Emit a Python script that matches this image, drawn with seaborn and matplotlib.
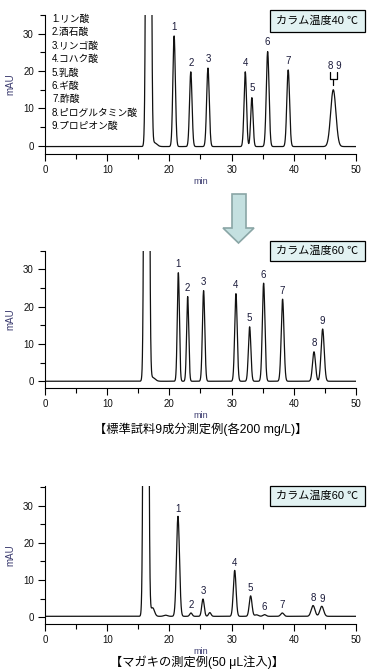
import numpy as np
import pandas as pd
import matplotlib
matplotlib.use("Agg")
import matplotlib.pyplot as plt
import seaborn as sns
from matplotlib.patches import Rectangle, Polygon
from matplotlib.ticker import MultipleLocator

# ---------------- data ----------------
compound_names = ["1.リン酸", "2.酒石酸", "3.リンゴ酸", "4.コハク酸", "5.乳酸",
                  "6.ギ酸", "7.酢酸", "8.ピログルタミン酸", "9.プロピオン酸"]

# 40 C standard (peaks 8 and 9 co-elute)
std40_labels = ["1", "2", "3", "4", "5", "6", "7"]
std40_rt = [20.76, 23.44, 26.20, 32.20, 33.26, 35.80, 39.10, 46.35]
std40_h = [29.6, 20.0, 21.0, 20.0, 13.1, 25.4, 20.5, 15.2]
std40_sd = [0.20, 0.20, 0.21, 0.20, 0.19, 0.22, 0.22, 0.42]
void40_rt = [16.65, 17.6]
void40_h = [600.0, 1.0]
void40_sd = [0.23, 0.40]
base40 = -0.2

# 60 C standard
std60_labels = ["1", "2", "3", "4", "5", "6", "7", "8", "9"]
std60_rt = [21.44, 22.94, 25.50, 30.70, 32.90, 35.15, 38.20, 43.25, 44.64]
std60_h = [29.1, 22.7, 24.3, 23.5, 14.6, 26.3, 22.0, 7.9, 14.0]
std60_sd = [0.17, 0.17, 0.19, 0.20, 0.20, 0.21, 0.22, 0.24, 0.25]
void60_rt = [16.35, 17.3]
void60_h = [600.0, 1.0]
void60_sd = [0.23, 0.40]
base60 = 0.0

# oyster sample, 60 C
oys_labels = ["1", "2", "3", "4", "5", "6", "7", "8", "9"]
oys_rt = [21.38, 23.47, 25.40, 30.50, 33.06, 35.30, 38.15, 43.10, 44.50]
oys_h = [26.9, 0.9, 4.65, 12.35, 5.5, 0.45, 0.9, 2.9, 2.7]
oys_sd = [0.24, 0.20, 0.20, 0.22, 0.22, 0.25, 0.25, 0.30, 0.30]
oys_minor_rt = [16.23, 17.30, 19.40, 26.50, 34.00]
oys_minor_h = [600.0, 2.3, 0.3, 1.0, 0.4]
oys_minor_sd = [0.23, 0.30, 0.30, 0.20, 0.30]
base_oys = 0.25

x_ticks = [0, 10, 20, 30, 40, 50]
y_ticks = [0, 10, 20, 30]

# ---------------- helpers ----------------
t = np.linspace(0, 50, 6001)


def chromatogram(rts, hs, sds, base):
    y = np.full_like(t, base)
    for r, h, s in zip(rts, hs, sds):
        y += h * np.exp(-(t - r) ** 2 / (2 * s ** 2))
    return y


sns.set_style("ticks")
plt.rcParams["font.family"] = ["Liberation Sans", "Noto Sans CJK JP"]
plt.rcParams["axes.unicode_minus"] = False

fig = plt.figure(figsize=(3.8, 6.7), dpi=100)

LBL = "#1a1a3a"
AXL = "#3a3a6e"


def make_axes(pos, ylim, sig):
    ax = fig.add_axes(pos)
    df = pd.DataFrame({"min": t, "mAU": sig})
    sns.lineplot(data=df, x="min", y="mAU", ax=ax, color="#111111",
                 linewidth=0.9, estimator=None, sort=False)
    ax.set_xlim(0, 50)
    ax.set_ylim(*ylim)
    ax.set_xticks(x_ticks)
    ax.set_yticks(y_ticks)
    ax.xaxis.set_minor_locator(MultipleLocator(5))
    ax.yaxis.set_minor_locator(MultipleLocator(5))
    ax.tick_params(which="major", length=5, width=0.8, labelsize=7, pad=3,
                   color="black", labelcolor="#111111")
    ax.tick_params(which="minor", length=3.5, width=0.8, color="black")
    for s in ["top", "right"]:
        ax.spines[s].set_visible(False)
    for s in ["left", "bottom"]:
        ax.spines[s].set_linewidth(0.8)
        ax.spines[s].set_color("black")
    ax.set_xlabel("min", fontsize=6.5, color=AXL)
    ax.set_ylabel("mAU", fontsize=7, color=AXL)
    ax.xaxis.set_label_coords(0.5, -0.165)
    ax.yaxis.set_label_coords(-0.096, 0.5)
    return ax


def label_peaks(ax, labels, rts, hs):
    for lb, r, h in zip(labels, rts, hs):
        ax.annotate(lb, (r, h), xytext=(0, 2.5), textcoords="offset points",
                    ha="center", va="bottom", fontsize=7, color=LBL)


def temp_box(ybot, h, text):
    fig.patches.append(Rectangle((0.7105, ybot), 0.2500, h, transform=fig.transFigure,
                                 facecolor="#e2f2f2", edgecolor="black", linewidth=0.9))
    fig.text(0.7105 + 0.125, ybot + h / 2, text, ha="center", va="center",
             fontsize=8, color="black")


# ---- top panel (40 C) ----
sig40 = chromatogram(std40_rt + void40_rt, std40_h + void40_h, std40_sd + void40_sd, base40)
ax1 = make_axes([0.1184, 0.7701, 0.8184, 0.2075], (-2.2, 35.0), sig40)
label_peaks(ax1, std40_labels, std40_rt[:7], std40_h[:7])
r89, h89 = std40_rt[7], std40_h[7]
ax1.plot([r89 - 0.6, r89 - 0.6, r89 + 0.6, r89 + 0.6], [h89 + 4.6, h89 + 2.8, h89 + 2.8, h89 + 4.6],
         color="black", lw=0.9)
ax1.plot([r89, r89], [h89 + 2.8, h89 + 1.0], color="black", lw=0.9)
ax1.text(r89 + 0.2, h89 + 6.1, "8 9", ha="center", va="center", fontsize=7, color=LBL)

for i, nm in enumerate(compound_names):
    fig.text(52 / 380, 1 - (19 + 13.4 * i) / 670, nm, ha="left", va="center",
             fontsize=7, color="black")
temp_box(1 - 32 / 670, 22 / 670, "カラム温度40 ℃")

# ---- arrow ----
arrow_px = [(232, 194), (246, 194), (246, 228), (254, 228), (238.5, 243),
            (223, 228), (232, 228)]
fig.patches.append(Polygon([(x / 380, 1 - y / 670) for x, y in arrow_px], closed=True,
                           transform=fig.transFigure, facecolor="#c4e0e0",
                           edgecolor="#8aa6a6", linewidth=1.2))

# ---- middle panel (60 C) ----
sig60 = chromatogram(std60_rt + void60_rt, std60_h + void60_h, std60_sd + void60_sd, base60)
ax2 = make_axes([0.1184, 0.4204, 0.8184, 0.2054], (-1.9, 35.0), sig60)
label_peaks(ax2, std60_labels, std60_rt, std60_h)
temp_box(1 - 261 / 670, 20.5 / 670, "カラム温度60 ℃")
fig.text(0.528, 1 - 429 / 670, "【標準試料9成分測定例(各200 mg/L)】", ha="center",
         va="center", fontsize=8.8, color="black")

# ---- bottom panel (oyster) ----
sig_oys = chromatogram(oys_rt + oys_minor_rt, oys_h + oys_minor_h, oys_sd + oys_minor_sd, base_oys)
ax3 = make_axes([0.1184, 0.0682, 0.8184, 0.2064], (-1.9, 35.3), sig_oys)
label_peaks(ax3, oys_labels, oys_rt, oys_h)
temp_box(1 - 506 / 670, 20.5 / 670, "カラム温度60 ℃")
fig.text(0.518, 1 - 662 / 670, "【マガキの測定例(50 μL注入)】", ha="center",
         va="center", fontsize=8.8, color="black")

fig.savefig("out.png", dpi=100)
